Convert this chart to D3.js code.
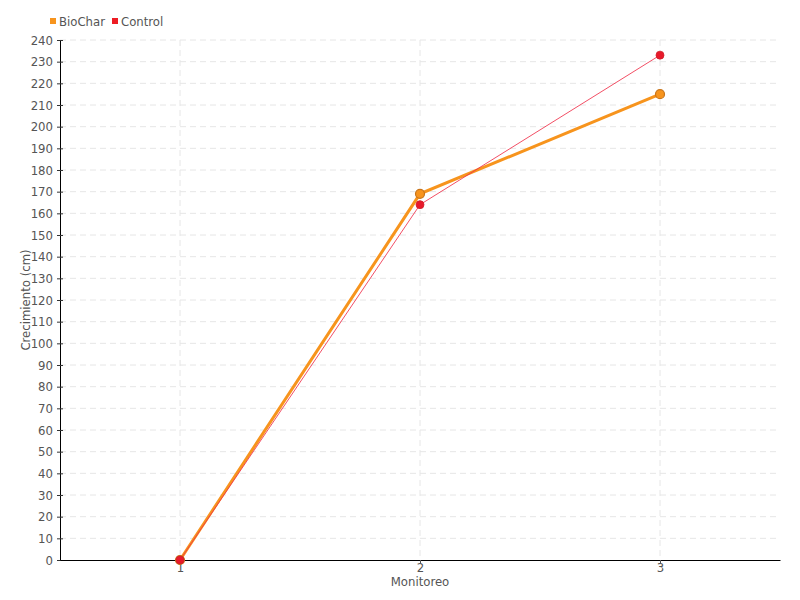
<!DOCTYPE html>
<html><head><meta charset="utf-8">
<script src="https://cdn.jsdelivr.net/npm/d3@7"></script>
<style>body{margin:0;background:#fff}svg{display:block}text{font-family:"DejaVu Sans Condensed","Liberation Sans Narrow","Roboto",sans-serif;fill:#555}</style>
</head><body><svg id="c" width="800" height="600"></svg>
<script>
const monitoreo = [1, 2, 3];
const biochar = [0, 169, 215];
const control = [0, 164, 233];
const yTicks = d3.range(0, 241, 10);
const seriesNames = ["BioChar", "Control"];
const colors = {BioChar: "#f7941d", Control: "#ed1c24"};

const svg = d3.select("#c");
const m = {l: 60, r: 20, t: 40, b: 40};
const W = 800, H = 600;
const x = d3.scaleLinear().domain([0.5, 3.5]).range([m.l, W - m.r]);
const y = d3.scaleLinear().domain([0, 240]).range([H - m.b, m.t]);

// grid
svg.append("g").selectAll("line").data(yTicks.filter(d => d > 0)).join("line")
  .attr("x1", m.l).attr("x2", W - m.r).attr("y1", d => y(d)).attr("y2", d => y(d))
  .attr("stroke", "#e6e6e6").attr("stroke-dasharray", "6,4");
svg.append("g").selectAll("line").data(monitoreo).join("line")
  .attr("x1", d => x(d)).attr("x2", d => x(d)).attr("y1", m.t).attr("y2", H - m.b)
  .attr("stroke", "#e6e6e6").attr("stroke-dasharray", "6,4");

// axes
const yAxis = svg.append("g").attr("transform", `translate(${m.l},0)`)
  .call(d3.axisLeft(y).tickValues(yTicks).tickSize(3).tickSizeOuter(0).tickPadding(4));
yAxis.selectAll(".tick line").attr("x1", -3).attr("x2", 3).attr("stroke", "#333");
yAxis.select(".domain").attr("stroke", "#000");
yAxis.selectAll("text").style("font-size", "13px").attr("fill", "#555");

const xAxis = svg.append("g").attr("transform", `translate(0,${H - m.b})`)
  .call(d3.axisBottom(x).tickValues(monitoreo).tickFormat(d3.format("d")).tickSize(3).tickSizeOuter(0).tickPadding(0));
xAxis.select(".domain").attr("stroke", "#000");
xAxis.selectAll(".tick line").attr("stroke", "#555");
xAxis.selectAll("text").style("font-size", "13px").attr("fill", "#555");

svg.append("text").attr("x", x(2)).attr("y", 586).attr("text-anchor", "middle")
  .style("font-size", "13px").text("Monitoreo");
svg.append("text").attr("transform", `translate(30,${(m.t + H - m.b) / 2}) rotate(-90)`)
  .attr("text-anchor", "middle").style("font-size", "13px").text("Crecimiento (cm)");

// lines
const line = d3.line().x((d, i) => x(monitoreo[i])).y(d => y(d));
svg.append("path").datum(biochar).attr("d", line).attr("fill", "none")
  .attr("stroke", colors.BioChar).attr("stroke-width", 3);
svg.append("path").datum(control).attr("d", line).attr("fill", "none")
  .attr("stroke", "#f0304a").attr("stroke-opacity", 0.85).attr("stroke-width", 1);

svg.append("g").selectAll("circle").data(biochar).join("circle")
  .attr("cx", (d, i) => x(monitoreo[i])).attr("cy", d => y(d)).attr("r", 4.5)
  .attr("fill", colors.BioChar).attr("stroke", "#c8741a").attr("stroke-width", 1.2);
svg.append("g").selectAll("circle").data(control).join("circle")
  .attr("cx", (d, i) => x(monitoreo[i])).attr("cy", d => y(d)).attr("r", 4)
  .attr("fill", "#e8192b").attr("stroke", "#d0202a").attr("stroke-width", 0.8);

// legend
const lg = svg.append("g");
const lx = [50, 112];
seriesNames.forEach((n, i) => {
  lg.append("rect").attr("x", lx[i]).attr("y", 18).attr("width", 6).attr("height", 6).attr("fill", colors[n]);
  lg.append("text").attr("x", lx[i] + 9).attr("y", 26).style("font-size", "13px").text(n);
});
</script></body></html>
